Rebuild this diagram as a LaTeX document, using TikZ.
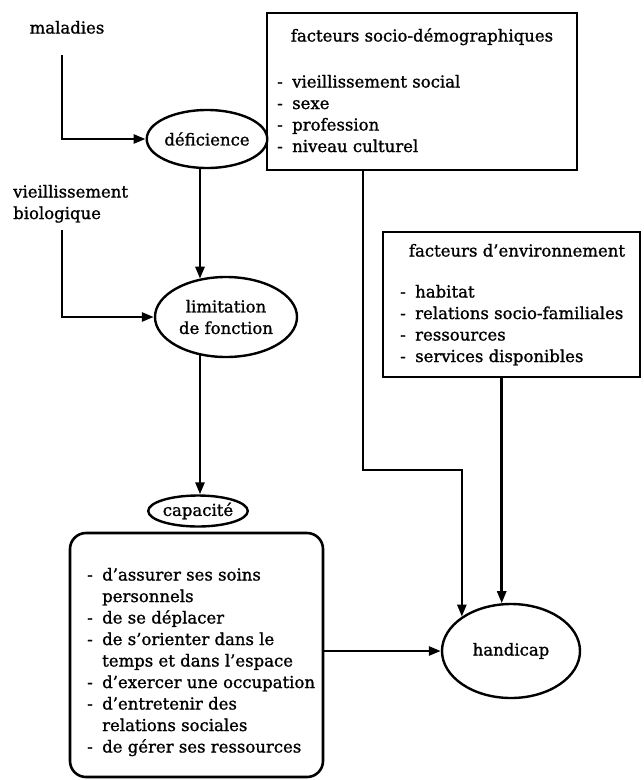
\documentclass[tikz,border=0pt]{standalone}
\usepackage{fontspec}
\setmainfont{DejaVu Serif}[FakeBold=1.2]
\usetikzlibrary{arrows.meta,shapes.geometric}
\newcommand{\fsz}{\fontsize{16.5}{21.5}\selectfont}
\newcommand{\dashlist}[1]{\begin{tabular}[t]{@{}p{15pt}@{}l@{}}#1\end{tabular}}
\begin{document}
\begin{tikzpicture}[x=1pt,y=-1pt,
  txt/.style={inner sep=0pt, font=\fsz},
  oval/.style={ellipse, draw, line width=2.4pt, inner sep=0pt, font=\fsz, align=center},
  sqbox/.style={draw, line width=2.8pt, inner sep=0pt},
  rbox/.style={draw, line width=2.6pt, rounded corners=16pt, inner sep=0pt},
  arr/.style={line width=2.6pt, -{Triangle[length=12pt,width=9pt]}}]
\useasboundingbox (0,0) rectangle (644,780);

% left column texts
\node[txt, anchor=base] (mal) at (67,33.5) {maladies};
\node[txt, anchor=base west] (bio) at (13,197.5) {\begin{tabular}[t]{@{}l@{}}vieillissement\\biologique\end{tabular}};

% ovals
\node[oval, minimum width=104pt, minimum height=58pt] (defi) at (207,139) {déficience};
\node[oval, minimum width=142pt, minimum height=80pt] (lim) at (226,317) {limitation\\de fonction};
\node[oval, minimum width=90pt, minimum height=31pt] (capa) at (198,511) {capacité};
\node[oval, minimum width=138pt, minimum height=94pt] (hand) at (511,651) {handicap};

% boxes
\node[sqbox, minimum width=310pt, minimum height=157pt] (socio) at (422,91.5) {};
\node[txt, anchor=base] (sociot) at (422,41.5) {facteurs socio-démographiques};
\node[txt, anchor=base west] (sociol) at (277,87.5) {\dashlist{- & vieillissement social\\- & sexe\\- & profession\\- & niveau culturel}};

\node[sqbox, minimum width=257pt, minimum height=145pt] (env) at (511.5,304.5) {};
\node[txt, anchor=base] (envt) at (517,256.5) {facteurs d'environnement};
\node[txt, anchor=base west] (envl) at (400,297.5) {\dashlist{- & habitat\\- & relations socio-familiales\\- & ressources\\- & services disponibles}};

\node[rbox, minimum width=253pt, minimum height=244pt] (cbox) at (196.5,655) {};
\node[txt, anchor=base west] (clist) at (87,580.5) {\dashlist{- & d'assurer ses soins\\ & personnels\\- & de se déplacer\\- & de s'orienter dans le\\ & temps et dans l'espace\\- & d'exercer une occupation\\- & d'entretenir des\\ & relations sociales\\- & de gérer ses ressources}};

% connectors
\coordinate (m0) at (62,55);
\coordinate (b0) at (62,230);
\coordinate (sp) at (200,0);
\coordinate (sx) at (363,0);
\coordinate (turn) at (363,470);

\draw[arr] (m0) |- (defi);
\draw[arr] (b0) |- (lim);
\draw[arr] (defi.south -| sp) -- (sp |- lim.125);
\draw[arr] (sp |- lim.235) -- (capa.north -| sp);
\draw[arr] (cbox.east |- hand) -- (hand);
\draw[arr] (socio.south -| sx) -- (turn) -| (hand.145);
\draw[arr] (env.south -| hand.101) -- (hand.101);
\end{tikzpicture}
\end{document}
